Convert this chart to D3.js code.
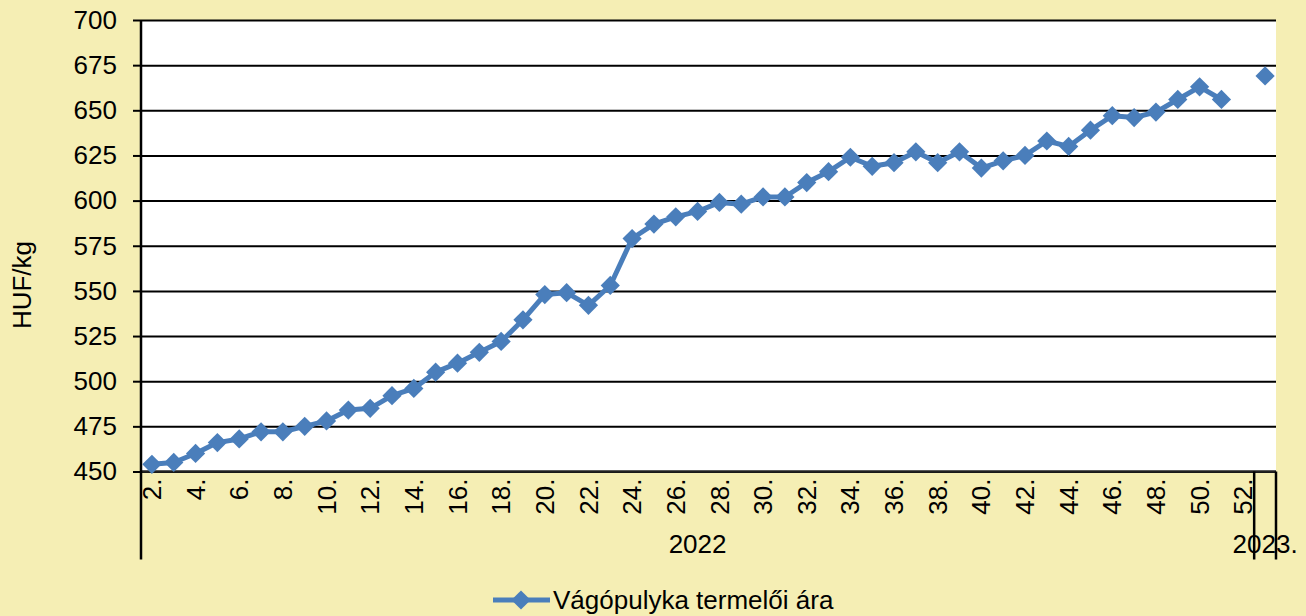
<!DOCTYPE html>
<html>
<head>
<meta charset="utf-8">
<script src="https://cdn.jsdelivr.net/npm/d3@7"></script>
<style>
  html, body { margin: 0; padding: 0; background: #f5eeb4; }
  svg { display: block; font-family: "Liberation Sans", Arial, sans-serif; }
</style>
</head>
<body>
<div id="chart"></div>
<script>
const weekLabels = ["2.", "3.", "4.", "5.", "6.", "7.", "8.", "9.", "10.", "11.",
  "12.", "13.", "14.", "15.", "16.", "17.", "18.", "19.", "20.", "21.",
  "22.", "23.", "24.", "25.", "26.", "27.", "28.", "29.", "30.", "31.",
  "32.", "33.", "34.", "35.", "36.", "37.", "38.", "39.", "40.", "41.",
  "42.", "43.", "44.", "45.", "46.", "47.", "48.", "49.", "50.", "51.",
  "52.", "1."];
const yearLabels = ["2022", "2023."];
const yearSpans = [51, 1];
const prices = [454, 455, 460, 466, 468, 472, 472, 475, 478, 484,
  485, 492, 496, 505, 510, 516, 522, 534, 548, 549,
  542, 553, 579, 587, 591, 594, 599, 598, 602, 602,
  610, 616, 624, 619, 621, 627, 621, 627, 618, 622,
  625, 633, 630, 639, 647, 646, 649, 656, 663, 656,
  null, 669];
const yTicks = [450, 475, 500, 525, 550, 575, 600, 625, 650, 675, 700];
const seriesName = "Vágópulyka termelői ára";

document.addEventListener("DOMContentLoaded", function () {
  const W = 1306, H = 616;
  const margin = { top: 20, right: 30, bottom: 144.5, left: 141 };
  const width = W - margin.left - margin.right;
  const height = H - margin.top - margin.bottom;
  const blue = "#4a7ebb";
  const fontSize = "26px";

  const svg = d3.select("#chart").append("svg")
    .attr("width", W).attr("height", H);

  svg.append("rect").attr("width", W).attr("height", H).attr("fill", "#f5eeb4");

  const g = svg.append("g")
    .attr("transform", `translate(${margin.left},${margin.top})`);

  const x = d3.scaleBand()
    .domain(d3.range(weekLabels.length))
    .range([0, width])
    .padding(0);

  const y = d3.scaleLinear()
    .domain([yTicks[0], yTicks[yTicks.length - 1]])
    .range([height, 0]);

  g.append("rect").attr("width", width).attr("height", height).attr("fill", "#fff");

  // gridlines
  g.append("g")
    .call(d3.axisLeft(y).tickValues(yTicks).tickSize(-width).tickFormat(""))
    .call(s => s.select(".domain").remove())
    .call(s => s.selectAll("line").attr("stroke", "#000").attr("stroke-width", 2));

  // y axis
  const yAxis = g.append("g")
    .call(d3.axisLeft(y).tickValues(yTicks).tickSize(8).tickPadding(16).tickSizeOuter(0));
  yAxis.select(".domain").remove();
  yAxis.selectAll("line").attr("stroke", "#000").attr("stroke-width", 2);
  yAxis.selectAll("text").style("font-size", fontSize).attr("fill", "#000");

  // x axis
  const xAxis = g.append("g")
    .attr("transform", `translate(0,${height})`)
    .call(d3.axisBottom(x).tickSize(0).tickFormat((d, i) => i % 2 === 0 ? weekLabels[i] : ""));
  xAxis.select(".domain").remove();
  xAxis.selectAll("text")
    .style("font-size", fontSize)
    .attr("fill", "#000")
    .attr("transform", "rotate(-90)")
    .attr("text-anchor", "end")
    .attr("x", -7)
    .attr("y", 0)
    .attr("dy", "0.35em");

  g.append("line")
    .attr("x1", 0).attr("x2", width).attr("y1", height).attr("y2", height)
    .attr("stroke", "#222").attr("stroke-width", 2.5);
  g.append("line")
    .attr("x1", 0).attr("x2", 0).attr("y1", 0).attr("y2", height + 88)
    .attr("stroke", "#000").attr("stroke-width", 2.5);

  // year groups
  let start = 0;
  yearLabels.forEach((label, i) => {
    const end = start + yearSpans[i];
    const x0 = x(start);
    const x1 = end < weekLabels.length ? x(end) : width;
    g.append("line")
      .attr("x1", x1).attr("x2", x1).attr("y1", height).attr("y2", height + 88)
      .attr("stroke", "#000").attr("stroke-width", 2.5);
    g.append("text")
      .attr("x", (x0 + x1) / 2)
      .attr("y", height + 81)
      .attr("text-anchor", "middle")
      .style("font-size", fontSize)
      .text(label);
    start = end;
  });

  // y title
  svg.append("text")
    .attr("transform", `translate(31,${285}) rotate(-90)`)
    .attr("text-anchor", "middle")
    .style("font-size", fontSize)
    .text("HUF/kg");

  // series
  const cx = (d, i) => x(i) + x.bandwidth() / 2;
  const line = d3.line()
    .defined(d => d != null)
    .x(cx)
    .y(d => y(d));

  g.append("path")
    .datum(prices)
    .attr("fill", "none")
    .attr("stroke", blue)
    .attr("stroke-width", 5)
    .attr("stroke-linejoin", "round")
    .attr("d", line);

  const diamond = d3.symbol(d3.symbolSquare, 185)();
  g.selectAll(".marker")
    .data(prices.map((v, i) => ({ v, i })).filter(d => d.v != null))
    .enter().append("path")
    .attr("class", "marker")
    .attr("d", diamond)
    .attr("fill", blue)
    .attr("transform", d => `translate(${cx(d.v, d.i)},${y(d.v)}) rotate(45)`);

  // legend
  const lg = svg.append("g").attr("transform", "translate(493,600)");
  lg.append("line").attr("x1", 0).attr("x2", 57).attr("y1", 0).attr("y2", 0)
    .attr("stroke", blue).attr("stroke-width", 5);
  lg.append("path").attr("d", diamond).attr("fill", blue)
    .attr("transform", "translate(28,0) rotate(45)");
  lg.append("text").attr("x", 60).attr("y", 9)
    .style("font-size", fontSize)
    .text(seriesName);
});
</script>
</body>
</html>
